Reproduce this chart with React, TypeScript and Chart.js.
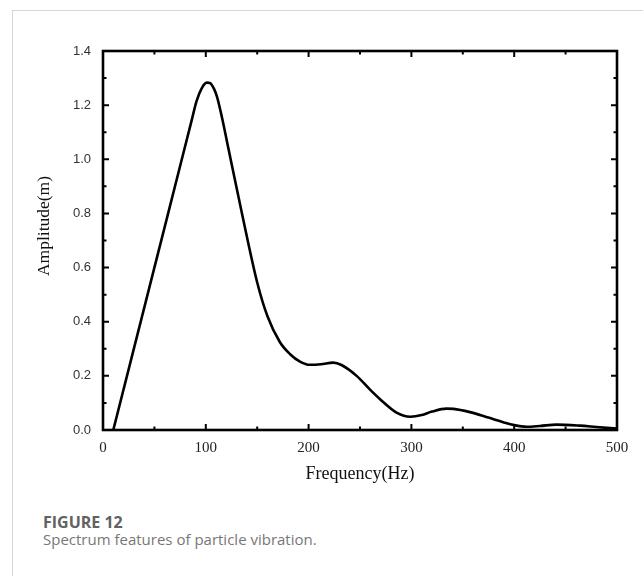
import React, { useEffect, useRef } from "react";
import { Chart, registerables } from "chart.js";

Chart.register(...registerables);

const frequency = [10, 45, 80, 86, 91, 96, 101, 104, 108, 111, 116, 122, 136, 150, 160, 172, 182, 192, 201, 212, 224, 232, 247, 260, 270, 286, 299, 310, 320, 334, 341, 357, 370, 380, 390, 400, 412, 425, 441, 464, 480, 500];
const amplitude = [0, 0.525, 1.05, 1.14, 1.215, 1.262, 1.283, 1.282, 1.26, 1.23, 1.15, 1.04, 0.785, 0.545, 0.42, 0.325, 0.28, 0.252, 0.241, 0.243, 0.249, 0.24, 0.199, 0.148, 0.112, 0.063, 0.049, 0.055, 0.068, 0.079, 0.078, 0.066, 0.052, 0.04, 0.028, 0.018, 0.012, 0.015, 0.02, 0.016, 0.011, 0.005];

const xMajorTicks = [0, 100, 200, 300, 400, 500];
const xMinorTicks = [50, 150, 250, 350, 450];
const yMajorTicks = [0, 0.2, 0.4, 0.6, 0.8, 1.0, 1.2, 1.4];
const yMinorTicks = [0.1, 0.3, 0.5, 0.7, 0.9, 1.1, 1.3];

const xTitle = "Frequency(Hz)";
const yTitle = "Amplitude(m)";
const figureLabel = "FIGURE 12";
const figureCaption = "Spectrum features of particle vibration.";

const framePlugin = {
  id: "frameTicks",
  afterDatasetsDraw(chart: any) {
    const { ctx, chartArea, scales } = chart;
    const { left, right, top, bottom } = chartArea;
    const xs = scales.x;
    const ys = scales.y;
    ctx.save();
    ctx.strokeStyle = "#000";
    ctx.lineWidth = 2;
    ctx.lineCap = "butt";
    const major = 6;
    const minor = 3.5;
    const drawX = (v: number, len: number) => {
      const px = xs.getPixelForValue(v);
      ctx.beginPath();
      ctx.moveTo(px, bottom);
      ctx.lineTo(px, bottom - len);
      ctx.moveTo(px, top);
      ctx.lineTo(px, top + len);
      ctx.stroke();
    };
    const drawY = (v: number, len: number) => {
      const py = ys.getPixelForValue(v);
      ctx.beginPath();
      ctx.moveTo(left, py);
      ctx.lineTo(left + len, py);
      ctx.moveTo(right, py);
      ctx.lineTo(right - len, py);
      ctx.stroke();
    };
    xMajorTicks.forEach((v) => drawX(v, major));
    xMinorTicks.forEach((v) => drawX(v, minor));
    yMajorTicks.forEach((v) => drawY(v, major));
    yMinorTicks.forEach((v) => drawY(v, minor));
    ctx.lineWidth = 2.6;
    ctx.strokeRect(left, top, right - left, bottom - top);
    // y-axis title
    ctx.fillStyle = "#111";
    ctx.font = "17.5px 'Liberation Serif', 'Times New Roman', serif";
    ctx.textAlign = "center";
    ctx.textBaseline = "middle";
    ctx.translate(44, 226);
    ctx.rotate(-Math.PI / 2);
    ctx.fillText(yTitle, 0, 0);
    ctx.restore();
  },
};

export default function App() {
  const canvasRef = useRef<HTMLCanvasElement | null>(null);

  useEffect(() => {
    if (!canvasRef.current) return;
    const chart = new Chart(canvasRef.current, {
      type: "line",
      data: {
        datasets: [
          {
            data: frequency.map((f, i) => ({ x: f, y: amplitude[i] })),
            borderColor: "#000",
            borderWidth: 2.6,
            pointRadius: 0,
            fill: false,
            cubicInterpolationMode: "monotone",
          },
        ],
      },
      options: {
        animation: false,
        responsive: false,
        maintainAspectRatio: false,
        layout: { padding: { left: 0, top: 51, right: 26, bottom: 0 } },
        plugins: { legend: { display: false }, tooltip: { enabled: false } },
        scales: {
          x: {
            type: "linear",
            min: 0,
            max: 500,
            grid: { display: false, drawTicks: false },
            border: { display: false },
            ticks: {
              stepSize: 100,
              padding: 9,
              color: "#222",
              font: { family: "'Liberation Serif', 'Times New Roman', serif", size: 15 },
            },
            title: {
              display: true,
              text: xTitle,
              color: "#111",
              padding: { top: 4, bottom: 0 },
              font: { family: "'Liberation Serif', 'Times New Roman', serif", size: 18 },
            },
            afterFit: (scale: any) => {
              scale.height = 55;
            },
          },
          y: {
            type: "linear",
            min: 0,
            max: 1.4,
            grid: { display: false, drawTicks: false },
            border: { display: false },
            ticks: {
              stepSize: 0.2,
              padding: 12,
              color: "#333",
              font: { family: "'Liberation Sans', Arial, sans-serif", size: 13 },
              callback: (v: any) => Number(v).toFixed(1),
            },
            afterFit: (scale: any) => {
              scale.width = 103;
            },
          },
        },
      },
      plugins: [framePlugin],
    });
    return () => chart.destroy();
  }, []);

  return (
    <div style={{ position: "absolute", left: 0, top: 0, width: 643, height: 576, overflow: "hidden", background: "#fff" }}>
      <div
        style={{
          position: "absolute",
          left: 12,
          top: 10,
          width: 700,
          height: 700,
          borderLeft: "1px solid #d6d6d6",
          borderTop: "1px solid #d6d6d6",
        }}
      />
      <canvas ref={canvasRef} width={643} height={485} style={{ position: "absolute", left: 0, top: 0 }} />
      <div
        style={{
          position: "absolute",
          left: 43,
          top: 512,
          fontFamily: "'Open Sans', 'Noto Sans', sans-serif",
          fontSize: 16,
          fontWeight: 700,
          lineHeight: "20px",
          color: "#626262",
          whiteSpace: "nowrap",
        }}
      >
        {figureLabel}
      </div>
      <div
        style={{
          position: "absolute",
          left: 43,
          top: 529,
          fontFamily: "'Open Sans', 'Noto Sans', sans-serif",
          fontSize: 15,
          lineHeight: "20px",
          color: "#777",
          whiteSpace: "nowrap",
        }}
      >
        {figureCaption}
      </div>
    </div>
  );
}
